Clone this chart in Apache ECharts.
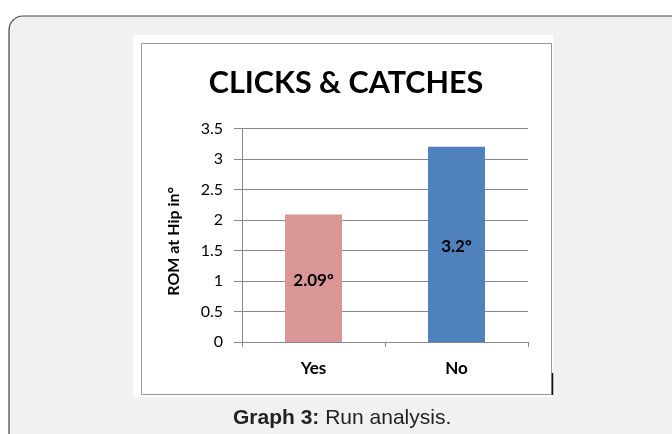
<!DOCTYPE html>
<html>
<head>
<meta charset="utf-8">
<script src="https://cdn.jsdelivr.net/npm/echarts@6/dist/echarts.min.js"></script>
<style>
  html, body { margin: 0; padding: 0; background: #fff; }
  #main { width: 672px; height: 434px; }
</style>
</head>
<body>
<div id="main"></div>
<script>
// chart data
const categories = ['Yes', 'No']
const romValues = [2.09, 3.2]
const barLabels = ['2.09º', '3.2º']
const barColors = ['#d99694', '#4f81bd']

const chart = echarts.init(document.getElementById('main'))

const option = {
  animation: false,
  title: {
    text: 'CLICKS & CATCHES',
    left: 341,
    textAlign: 'center',
    top: 63,
    textStyle: { fontFamily: 'Lato', fontWeight: 'bold', fontSize: 30.5, color: '#000' }
  },
  graphic: [
    // outer rounded panel
    {
      type: 'rect', z: -10,
      shape: { x: 9, y: 16, width: 700, height: 460, r: 14 },
      style: { fill: '#f0f1f3', stroke: '#444', lineWidth: 1.2 }
    },
    // white picture area
    {
      type: 'rect', z: -9,
      shape: { x: 133, y: 35, width: 420, height: 362 },
      style: { fill: '#fff' }
    },
    // chart border
    {
      type: 'rect', z: -8,
      shape: { x: 141.5, y: 43.5, width: 410, height: 351 },
      style: { fill: 'none', stroke: '#999', lineWidth: 1 }
    },
    {
      type: 'line', z: -7,
      shape: { x1: 552.5, y1: 373, x2: 552.5, y2: 395 },
      style: { stroke: '#111', lineWidth: 1.5 }
    },
    // caption
    {
      type: 'text',
      left: 233, top: 408,
      style: {
        rich: {
          b: { fontFamily: 'Liberation Sans', fontWeight: 'bold', fontSize: 21, fill: '#222' },
          n: { fontFamily: 'Liberation Sans', fontSize: 21, fill: '#222' }
        },
        text: '{b|Graph 3:}{n| Run analysis.}'
      }
    }
  ],
  grid: { left: 242, right: 144, top: 128.5, bottom: 92 },
  xAxis: {
    type: 'category',
    data: categories,
    axisLine: { lineStyle: { color: '#888' } },
    axisTick: { show: true, length: 5, lineStyle: { color: '#888' } },
    axisLabel: {
      margin: 18,
      fontFamily: 'Lato', fontWeight: 'bold', fontSize: 17, color: '#000'
    }
  },
  yAxis: {
    type: 'value',
    min: 0, max: 3.5, interval: 0.5,
    name: 'ROM at Hip in°',
    nameLocation: 'middle',
    nameGap: 60,
    nameTextStyle: {
      fontFamily: 'Lato', fontWeight: 'bold', fontSize: 16, color: '#000',
      padding: [0, 12, 0, 0]
    },
    axisLine: { show: true, lineStyle: { color: '#888' } },
    axisTick: { show: true, length: 8, lineStyle: { color: '#888' } },
    splitLine: { lineStyle: { color: '#888' } },
    axisLabel: {
      margin: 19,
      fontFamily: 'Lato', fontSize: 16, color: '#000'
    }
  },
  series: [
    {
      type: 'bar',
      barWidth: 57,
      data: romValues.map((v, i) => ({
        value: v,
        itemStyle: { color: barColors[i] },
        label: { formatter: barLabels[i] }
      })),
      label: {
        show: true,
        position: 'inside',
        offset: [0, 2],
        fontFamily: 'Lato', fontWeight: 'bold', fontSize: 17, color: '#000'
      }
    }
  ]
}

chart.setOption(option)
</script>
</body>
</html>
